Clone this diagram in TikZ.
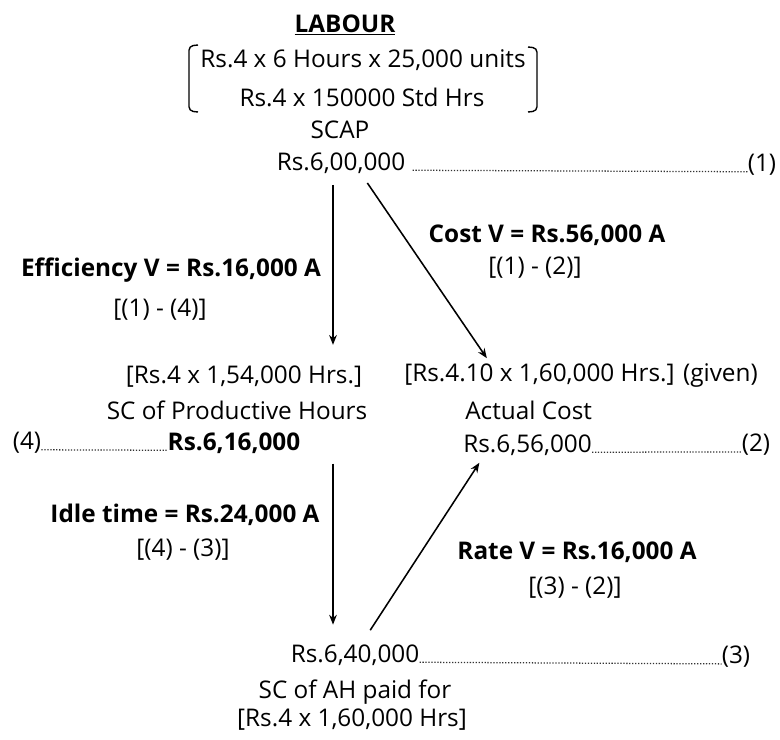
\documentclass[tikz,border=0pt]{standalone}
\usepackage{fontspec}
\setmainfont{Open Sans}
\usetikzlibrary{arrows.meta}
\tikzset{
  txt/.style={inner sep=0pt,font=\fontsize{17.3}{20}\selectfont},
  vartxt/.style={txt,font=\fontsize{17.3}{20}\selectfont\bfseries},
  arr/.style={->,>={Stealth[length=7pt,width=5.5pt]},line width=1.1pt},
  leader/.style={line width=0.9pt,dash pattern=on 0.9pt off 1.2pt,black!80}
}

\begin{document}
\begin{tikzpicture}[x=0.025cm,y=-0.025cm]
    \useasboundingbox (0,0) rectangle (780,740);
    % heading and standard cost
    \node[vartxt] (title) at (345,25) {\underline{LABOUR}};
    \node[txt] (std1) at (363,60) {Rs.4 x 6 Hours x 25,000 units};
    \node[txt] (std2) at (362,97) {Rs.4 x 150000 Std Hrs};
    \draw[line width=1pt,rounded corners=3pt] (198,45) -- (189,46) -- (189,111) -- (198,112);
    \draw[line width=1pt,rounded corners=3pt] (528,47) -- (537,48) -- (537,111) -- (528,112);
    \node[txt] (scap) at (340,130) {SCAP};
    \node[txt] (v1) at (341,163) {Rs.6,00,000};
    \node[txt] (n1) at (762,165) {(1)};
    \draw[leader] (v1.base east) ++(7,0) coordinate (d1) -- (n1.base west);
    % productive hours
    \node[txt] (ph1) at (244,377) {[Rs.4 x 1,54,000 Hrs.]};
    \node[txt] (ph2) at (237,410) {SC of Productive Hours};
    \node[vartxt] (v4) at (234,443) {Rs.6,16,000};
    \node[txt] (n4) at (27,443) {(4)};
    \draw[leader] (n4.base east) -- (v4.base west);
    % actual cost
    \node[txt] (ac1) at (581,375) {[Rs.4.10 x 1,60,000 Hrs.] (given)};
    \node[txt,anchor=west] (ac2) at (465,410) {Actual Cost};
    \node[txt,anchor=west] (v2) at (463,445) {Rs.6,56,000};
    \node[txt] (n2) at (756,445) {(2)};
    \draw[leader] (v2.base east) -- (n2.base west);
    % actual hours paid
    \node[txt] (v3) at (355,655) {Rs.6,40,000};
    \node[txt] (n3) at (736,657) {(3)};
    \draw[leader] (v3.base east) -- (n3.base west);
    \node[txt] (ah1) at (355,692) {SC of AH paid for};
    \node[txt] (ah2) at (352,720) {[Rs.4 x 1,60,000 Hrs]};
    % variances
    \node[vartxt] (eff) at (171,270) {Efficiency V = Rs.16,000 A};
    \node[txt] (eff2) at (160,310) {[(1) - (4)]};
    \node[vartxt] (cost) at (547,235) {Cost V = Rs.56,000 A};
    \node[txt] (cost2) at (535,268) {[(1) - (2)]};
    \node[vartxt] (idle) at (185,515) {Idle time = Rs.24,000 A};
    \node[txt] (idle2) at (183,550) {[(4) - (3)]};
    \node[vartxt] (rate) at (577,552) {Rate V = Rs.16,000 A};
    \node[txt] (rate2) at (575,588) {[(3) - (2)]};
    % arrows
    \coordinate (cL) at (333,0);
    \coordinate (cM) at (361,0);
    \coordinate (cR1) at (490,0);
    \coordinate (cR2) at (484,0);
    \draw[arr,shorten <=8pt,shorten >=15pt] (v1.south -| cL) -- (ph1.north -| cL);
    \draw[arr,shorten <=8pt,shorten >=4pt] (v1.south -| cM) -- (ac1.north -| cR1);
    \draw[arr,shorten <=7pt,shorten >=14pt] (v4.south -| cL) -- (v3.north -| cL);
    \draw[arr,shorten <=12pt,shorten >=6pt] (v3.north -| cM) -- (v2.south -| cR2);
\end{tikzpicture}
\end{document}
